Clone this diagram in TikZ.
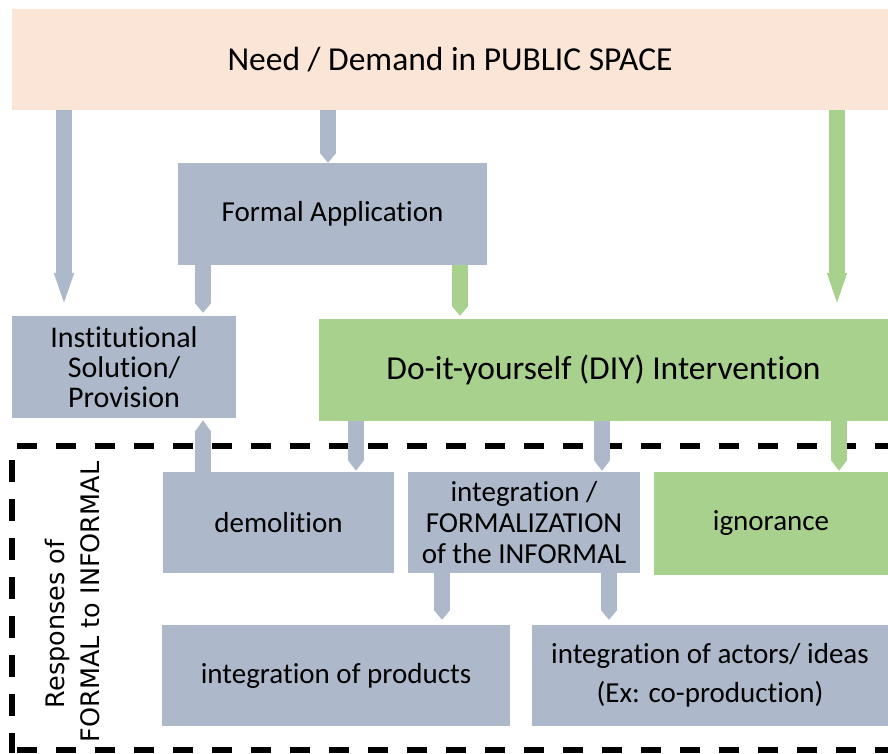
\documentclass[tikz,border=0pt]{standalone}
\usepackage{fontspec}
\setmainfont{Carlito}[Ligatures=NoCommon]
\newfontfamily\sidefont{DejaVu Sans}
\usepackage{tikz}
\usetikzlibrary{arrows.meta}

\definecolor{peach}{HTML}{FBE5D6}
\definecolor{bluegray}{HTML}{ADB9CA}
\definecolor{leafgreen}{HTML}{A9D18E}

\tikzset{
  box/.style={inner sep=0pt, align=center, font=\fontsize{29}{31}\selectfont},
  bluebox/.style={box, fill=bluegray},
  greenbox/.style={box, fill=leafgreen},
  sidelabel/.style={rotate=90, inner sep=0pt, anchor=base, font=\sidefont\fontsize{25.5}{30}\selectfont},
  arr/.style={line width=16pt, -{Triangle[length=#1, width=0pt 1]}},
  arr/.default=10pt,
  barr/.style={arr=#1, draw=bluegray},
  barr/.default=10pt,
  garr/.style={arr=#1, draw=leafgreen},
  garr/.default=10pt,
}

\begin{document}
\begin{tikzpicture}[x=1pt, y=-1pt]
\useasboundingbox (0,0) rectangle (888,753);

% boxes
\node[box, fill=peach, minimum width=876pt, minimum height=101pt, font=\fontsize{33.5}{35}\selectfont] (need) at (450,59.5) {Need / Demand in PUBLIC SPACE};
\node[bluebox, minimum width=309pt, minimum height=102pt] (formal) at (332.5,214) {Formal Application};
\node[bluebox, minimum width=224pt, minimum height=102pt, font=\fontsize{30}{30}\selectfont] (inst) at (124,367) {Institutional\\Solution/\\Provision};
\node[greenbox, minimum width=569pt, minimum height=102pt, font=\fontsize{33.5}{35}\selectfont] (diy) at (603.5,370) {Do-it-yourself (DIY) Intervention};
\node[bluebox, minimum width=231pt, minimum height=101pt] (demol) at (278.5,522.5) {demolition};
\node[bluebox, minimum width=232pt, minimum height=101pt] (formz) at (524,522.5) {integration /\\FORMALIZATION\\of the INFORMAL};
\node[greenbox, minimum width=234pt, minimum height=103pt] (ignor) at (771,523.5) {ignorance};
\node[bluebox, minimum width=348pt, minimum height=101pt] (prod) at (336,675.5) {integration of products};
\node[bluebox, minimum width=356pt, minimum height=101pt, font=\fontsize{29}{39}\selectfont] (actors) at (710,675.5) {integration of actors/ ideas\\(Ex: co-production)};

% responses frame
\draw[line width=6pt, dash pattern=on 20pt off 19pt] (17,446) -- (888,446);
\draw[line width=6pt, dash pattern=on 22pt off 17pt] (12,460) -- (12,753);
\draw[line width=6pt, dash pattern=on 20pt off 19pt] (17,750) -- (888,750);
\node[sidelabel] (resp) at (64,624) {Responses of};
\node[sidelabel] (respb) at (99,602) {FORMAL to INFORMAL};

% x positions of the arrows
\coordinate (a1) at (64,0);
\coordinate (a2) at (328,0);
\coordinate (a3) at (837,0);
\coordinate (a4) at (203,0);
\coordinate (a5) at (460,0);
\coordinate (a6) at (356,0);
\coordinate (a7) at (602,0);
\coordinate (a8) at (839,0);
\coordinate (a9) at (442,0);
\coordinate (a10) at (609,0);

% arrows
\draw[barr=40pt, shorten >=3pt] (need.south -| a1) -- (inst.north -| a1);
\draw[barr] (need.south -| a2) -- (formal.north -| a2);
\draw[garr=40pt, shorten >=6pt] (need.south -| a3) -- (diy.north -| a3);
\draw[barr, shorten >=3pt] (formal.south -| a4) -- (inst.north -| a4);
\draw[garr, shorten >=3pt] (formal.south -| a5) -- (diy.north -| a5);
\draw[barr=12pt, shorten >=2pt] (demol.north -| a4) -- (inst.south -| a4);
\draw[barr=11pt, shorten >=1pt] (diy.south -| a6) -- (demol.north -| a6);
\draw[barr=11pt, shorten >=1pt] (diy.south -| a7) -- (formz.north -| a7);
\draw[garr=11pt, shorten >=1pt] (diy.south -| a8) -- (ignor.north -| a8);
\draw[barr, shorten >=5pt] (formz.south -| a9) -- (prod.north -| a9);
\draw[barr, shorten >=5pt] (formz.south -| a10) -- (actors.north -| a10);
\end{tikzpicture}
\end{document}
